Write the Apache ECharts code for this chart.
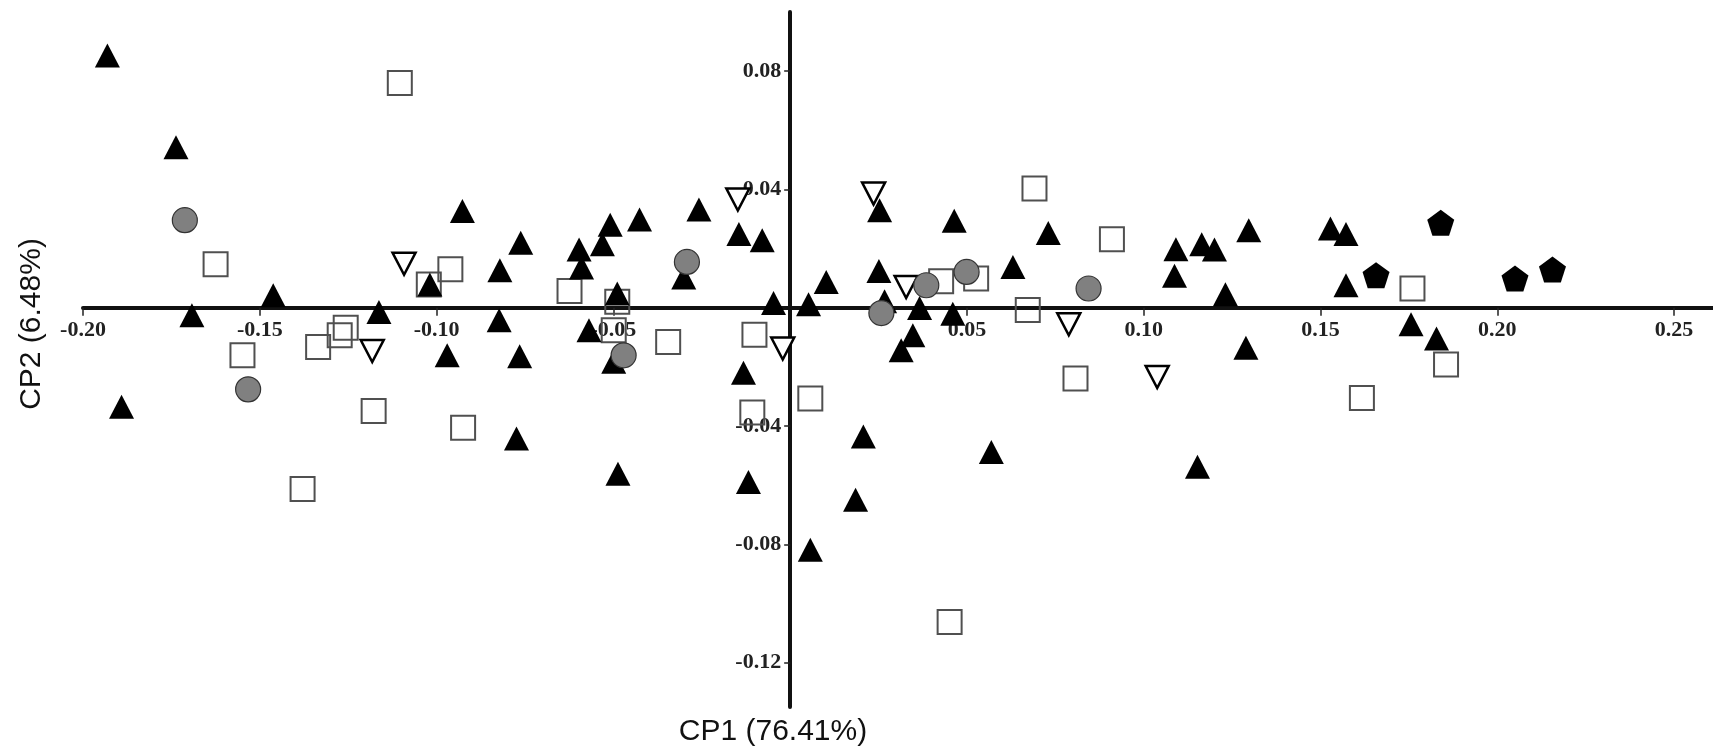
<!DOCTYPE html>
<html>
<head>
<meta charset="utf-8">
<script src="https://cdn.jsdelivr.net/npm/echarts@6/dist/echarts.min.js"></script>
<style>
  html, body { margin: 0; padding: 0; background: #fff; }
  #chart { width: 1713px; height: 755px; }
</style>
</head>
<body>
<div id="chart"></div>
<script>
// Axis tick values
const xTickValues = [-0.20, -0.15, -0.10, -0.05, 0.05, 0.10, 0.15, 0.20, 0.25];
const yTickValues = [0.08, 0.04, -0.04, -0.08, -0.12];
const xTitle = 'CP1 (76.41%)';
const yTitle = 'CP2 (6.48%)';

// Filled triangles [CP1, CP2]
const filledTriangles = [
  [-0.1931, 0.0853], [-0.1737, 0.0543], [-0.0927, 0.0327], [-0.1019, 0.0079],
  [-0.1462, 0.0042], [-0.0762, 0.0220], [-0.0821, 0.0127], [-0.0597, 0.0197],
  [-0.0590, 0.0136], [-0.0531, 0.0215], [-0.0509, 0.0281], [-0.0426, 0.0298],
  [-0.0258, 0.0332], [-0.0301, 0.0102], [-0.0145, 0.0249], [-0.0079, 0.0228],
  [-0.0047, 0.0016], [0.0052, 0.0012], [0.0102, 0.0087], [-0.0489, 0.0048],
  [-0.0823, -0.0042], [-0.0569, -0.0076], [-0.0970, -0.0161], [-0.0765, -0.0164],
  [-0.0499, -0.0183], [-0.0132, -0.0220], [-0.0774, -0.0442], [0.0207, -0.0435],
  [0.0253, 0.0330], [0.0464, 0.0294], [0.0730, 0.0253], [0.1091, 0.0198],
  [0.1164, 0.0215], [0.1200, 0.0197], [0.1297, 0.0262], [0.1087, 0.0108],
  [0.1231, 0.0046], [0.1289, -0.0135], [0.0251, 0.0124], [0.0630, 0.0138],
  [0.0366, -0.0001], [0.0460, -0.0020], [0.0267, 0.0022], [0.0347, -0.0093],
  [0.0314, -0.0144], [0.0569, -0.0488], [0.1528, 0.0268], [0.1572, 0.0249],
  [0.1572, 0.0076], [0.1756, -0.0056], [0.1828, -0.0104], [-0.1692, -0.0025],
  [-0.1163, -0.0014], [-0.1891, -0.0335], [-0.0487, -0.0561], [-0.0118, -0.0589],
  [0.0185, -0.0649], [0.0057, -0.0818], [0.1152, -0.0538]
];

// Open squares
const openSquares = [
  [-0.1104, 0.0760], [-0.1625, 0.0147], [-0.0961, 0.0130], [-0.1022, 0.0079],
  [-0.0624, 0.0057], [-0.0489, 0.0020], [-0.0499, -0.0076], [-0.0345, -0.0116],
  [-0.0101, -0.0091], [-0.0107, -0.0354], [0.0057, -0.0307], [-0.0925, -0.0406],
  [0.0691, 0.0403], [0.0910, 0.0232], [0.0427, 0.0090], [0.0526, 0.0099],
  [0.0672, -0.0008], [0.0807, -0.0239], [0.1760, 0.0065], [0.1855, -0.0192],
  [0.1617, -0.0305], [-0.1549, -0.0161], [-0.1335, -0.0133], [-0.1274, -0.0093],
  [-0.1257, -0.0068], [-0.1178, -0.0349], [-0.1379, -0.0613], [0.0451, -0.1063]
];

// Grey circles
const greyCircles = [
  [-0.1712, 0.0296], [-0.0292, 0.0155], [-0.0471, -0.0161], [0.0385, 0.0076],
  [0.0499, 0.0121], [0.0844, 0.0065], [0.0258, -0.0018], [-0.1533, -0.0276]
];

// Open inverted triangles
const openInvTriangles = [
  [-0.1092, 0.0149], [-0.0148, 0.0366], [-0.0021, -0.0138], [0.0236, 0.0386],
  [0.0328, 0.0070], [0.0788, -0.0056], [0.1038, -0.0234], [-0.1182, -0.0146]
];

// Filled pentagons
const filledPentagons = [
  [0.1657, 0.0110], [0.1840, 0.0287], [0.2050, 0.0099], [0.2156, 0.0129]
];

const pentagonPath = 'path://M50 0 L97.6 34.5 L79.4 90.5 L20.6 90.5 L2.4 34.5 Z';
const fmt = v => {
  const s = Number(v).toFixed(2);
  return s === '-0.00' ? '0.00' : s;
};

const gridLeft = 83, gridTop = 12, gridBottom = 48, W = 1713, H = 755;
const xMin = -0.2, xMax = 0.261, yMin = -0.135, yMax = 0.1;
const plotW = W - gridLeft, plotH = H - gridTop - gridBottom;
// offsets that place each axis line at the other axis's zero
const xAxisOffset = -((0 - yMin) / (yMax - yMin)) * plotH;
const yAxisOffset = -((0 - xMin) / (xMax - xMin)) * plotW;

const chart = echarts.init(document.getElementById('chart'), null, { renderer: 'canvas' });
chart.setOption({
  backgroundColor: '#ffffff',
  animation: false,
  grid: { left: gridLeft, right: 0, top: gridTop, bottom: gridBottom, containLabel: false },
  xAxis: {
    type: 'value',
    position: 'bottom',
    offset: xAxisOffset,
    min: xMin,
    max: xMax,
    splitLine: { show: false },
    axisLine: { show: true, onZero: false, lineStyle: { color: '#111', width: 4 } },
    axisTick: { show: true, customValues: xTickValues, length: 8, lineStyle: { color: '#222', width: 1.5 } },
    axisLabel: {
      customValues: xTickValues,
      formatter: fmt,
      fontFamily: 'Liberation Serif',
      fontWeight: 'bold',
      fontSize: 22,
      color: '#222',
      margin: 12
    }
  },
  yAxis: {
    type: 'value',
    position: 'left',
    offset: yAxisOffset,
    min: yMin,
    max: yMax,
    splitLine: { show: false },
    axisLine: { show: true, onZero: false, lineStyle: { color: '#111', width: 4 } },
    axisTick: { show: true, customValues: yTickValues, length: 6, lineStyle: { color: '#222', width: 1.5 } },
    axisLabel: {
      customValues: yTickValues,
      formatter: fmt,
      fontFamily: 'Liberation Serif',
      fontWeight: 'bold',
      fontSize: 22,
      color: '#222',
      margin: 9
    }
  },
  series: [
    {
      name: 'squares', type: 'scatter', data: openSquares,
      symbol: 'rect', symbolSize: 24,
      itemStyle: { color: 'rgba(255,255,255,0)', borderColor: '#505050', borderWidth: 2, opacity: 1 }
    },
    {
      name: 'invTriangles', type: 'scatter', data: openInvTriangles,
      symbol: 'triangle', symbolRotate: 180, symbolSize: [23, 22],
      itemStyle: { color: '#ffffff', borderColor: '#000', borderWidth: 2.5, opacity: 1 }
    },
    {
      name: 'triangles', type: 'scatter', data: filledTriangles,
      symbol: 'triangle', symbolSize: [25, 24],
      itemStyle: { color: '#000', borderWidth: 0, opacity: 1 }
    },
    {
      name: 'circles', type: 'scatter', data: greyCircles,
      symbol: 'circle', symbolSize: 25,
      itemStyle: { color: '#808080', borderColor: '#333', borderWidth: 1.2, opacity: 1 }
    },
    {
      name: 'pentagons', type: 'scatter', data: filledPentagons,
      symbol: pentagonPath, symbolSize: [27, 26],
      itemStyle: { color: '#000', borderWidth: 0, opacity: 1 }
    }
  ],
  graphic: [
    {
      type: 'text', x: 773, y: 732,
      style: { text: xTitle, font: '30px "Liberation Sans", Arial, sans-serif', fill: '#111', align: 'center', verticalAlign: 'middle' }
    },
    {
      type: 'text', x: 32, y: 324, rotation: Math.PI / 2,
      style: { text: yTitle, font: '30px "Liberation Sans", Arial, sans-serif', fill: '#111', align: 'center', verticalAlign: 'middle' }
    }
  ]
});
</script>
</body>
</html>
